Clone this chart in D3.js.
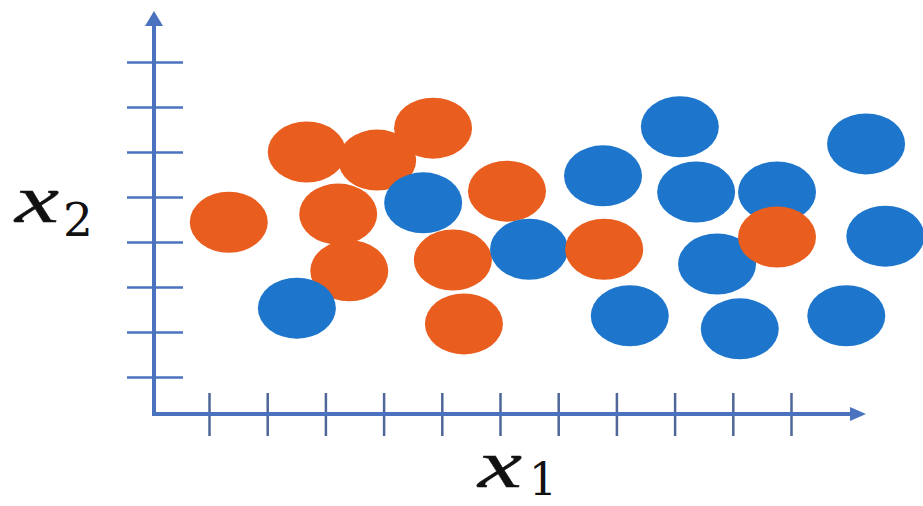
<!DOCTYPE html>
<html><head><meta charset="utf-8">
<script src="https://cdn.jsdelivr.net/npm/d3@7"></script>
<style>html,body{margin:0;padding:0;background:#fff;}svg{display:block;}</style>
</head><body>
<script>
// ---- data ----
const xTicks = [1,2,3,4,5,6,7,8,9,10,11];
const yTicks = [1,2,3,4,5,6,7,8];
const orangeX1 = [1.34, 2.68, 3.89, 4.85, 3.22, 3.41, 6.12, 5.19, 5.38];
const orangeX2 = [4.44, 6.00, 5.82, 6.53, 4.62, 3.36, 5.13, 3.60, 2.18];
const blueX1 = [4.68, 2.51, 6.50, 9.09, 7.77, 9.37, 10.76, 12.29, 12.62, 9.73, 8.23, 10.12, 11.95];
const blueX2 = [4.87, 2.53, 3.84, 6.56, 5.47, 5.11, 5.11, 6.18, 4.13, 3.51, 2.36, 2.07, 2.36];
const orangeTopX1 = [7.79, 10.76];
const orangeTopX2 = [3.84, 4.11];
const xLabel = "x", xSub = "1", yLabel = "x", ySub = "2";

const W = 923, H = 506;
const ORANGE = "#E95E1E", BLUE = "#1D76CB", AXIS = "#4A72BE", TICK = "#4F6699";
const svg = d3.select("body").append("svg").attr("width", W).attr("height", H);

const x = d3.scaleLinear().domain([1, 11]).range([209, 791]);
const y = d3.scaleLinear().domain([1, 8]).range([377, 62]);
const originX = 154, originY = 414;

// ticks via d3 axes, made to cross the axis line
const gx = svg.append("g").attr("transform", `translate(0,${originY})`)
  .call(d3.axisBottom(x).tickValues(xTicks).tickFormat(""));
gx.select(".domain").remove();
gx.selectAll(".tick line").attr("y1", -21).attr("y2", 22).attr("stroke", TICK).attr("stroke-width", 2.5);

const gy = svg.append("g").attr("transform", `translate(${originX},0)`)
  .call(d3.axisLeft(y).tickValues(yTicks).tickFormat(""));
gy.select(".domain").remove();
gy.selectAll(".tick line").attr("x1", -27).attr("x2", 29).attr("stroke", AXIS).attr("stroke-width", 2.5);

// axis lines with arrowheads
svg.append("path").attr("d", `M${originX},${originY+2} L${originX},24`)
  .attr("stroke", AXIS).attr("stroke-width", 4).attr("fill", "none");
svg.append("path").attr("d", `M${originX-9},26 L${originX},11 L${originX+9},26 Z`).attr("fill", AXIS);
svg.append("path").attr("d", `M${originX-2},${originY} L852,${originY}`)
  .attr("stroke", AXIS).attr("stroke-width", 4).attr("fill", "none");
svg.append("path").attr("d", `M850,${originY-7} L866,${originY} L850,${originY+7} Z`).attr("fill", AXIS);

// points
function dots(xs, ys, color) {
  svg.append("g").selectAll("ellipse").data(xs.map((v, i) => [v, ys[i]])).join("ellipse")
    .attr("cx", d => x(d[0])).attr("cy", d => y(d[1]))
    .attr("rx", 39).attr("ry", 30.5).attr("fill", color);
}
dots(orangeX1, orangeX2, ORANGE);
dots(blueX1, blueX2, BLUE);
dots(orangeTopX1, orangeTopX2, ORANGE);

// labels
function label(px, py, sx, sy, fs, main, sub) {
  svg.append("text").attr("x", px).attr("y", py)
    .attr("font-family", "Liberation Serif, serif").attr("font-style", "italic")
    .attr("font-size", 68).attr("fill", "#111").attr("stroke", "#111").attr("stroke-width", 0.4)
    .attr("textLength", 44).attr("lengthAdjust", "spacingAndGlyphs").text(main);
  svg.append("text").attr("x", sx).attr("y", sy)
    .attr("font-family", "DejaVu Serif, serif").attr("font-size", fs).attr("fill", "#111")
    .text(sub);
}
label(15, 222, 63, 236, 47, yLabel, ySub);
label(478, 487, 529, 495, 44, xLabel, xSub);
</script>
</body></html>
